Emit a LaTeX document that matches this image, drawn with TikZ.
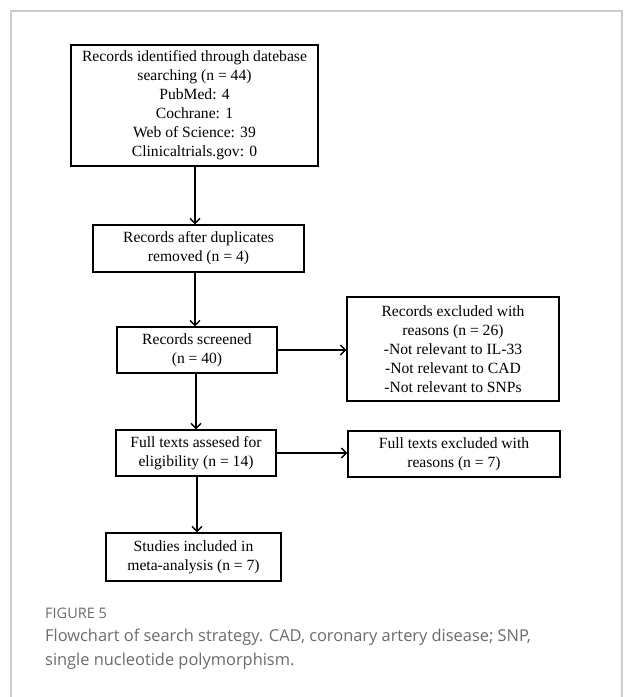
\documentclass[tikz,border=0pt]{standalone}
\usepackage{fontspec}
\setmainfont{Liberation Serif}
\newfontfamily\capfont{Open Sans}
\usetikzlibrary{arrows.meta}
\definecolor{framegray}{HTML}{CCCCCC}
\definecolor{capgray}{HTML}{6B6B6B}
\begin{document}
\begin{tikzpicture}[x=1pt,y=-1pt,
  box/.style={draw=black, line width=1.4pt, inner sep=0pt, align=center,
    font=\fontsize{15.6}{19}\selectfont},
  flow/.style={line width=1.4pt, -{Straight Barb[length=5pt,width=10pt,line width=1.4pt]}}]
\useasboundingbox (0,0) rectangle (625,697);
\draw[framegray, line width=1.5pt] (11,700) -- (11,11) -- (622,11) -- (622,700);

\node[box, minimum width=247pt, minimum height=121pt] (b1) at (194.5,105.5)
  {Records identified through datebase\\searching (n = 44)\\PubMed: 4\\Cochrane: 1\\Web of Science: 39\\Clinicaltrials.gov: 0};
\node[box, minimum width=211pt, minimum height=47pt] (b2) at (198.5,248.5)
  {Records after duplicates\\removed (n = 4)};
\node[box, minimum width=160pt, minimum height=46pt] (b3) at (197,350)
  {Records screened\\(n = 40)};
\node[box, minimum width=212pt, minimum height=104pt] (r1) at (453,349)
  {Records excluded with\\reasons (n = 26)\\-Not relevant to IL-33\\-Not relevant to CAD\\-Not relevant to SNPs};
\node[box, minimum width=160pt, minimum height=46pt] (b4) at (196,453)
  {Full texts assesed for\\eligibility (n = 14)};
\node[box, minimum width=212pt, minimum height=46pt] (r2) at (454,454)
  {Full texts excluded with\\reasons (n = 7)};
\node[box, minimum width=175pt, minimum height=48pt] (b5) at (193.5,557)
  {Studies included in\\meta-analysis (n = 7)};

\draw[flow] (b1.south -| 195,0) -- (b2.north -| 195,0);
\draw[flow] (b2.south -| 195,0) -- (b3.north -| 195,0);
\draw[flow] (b3.south -| 196,0) -- (b4.north -| 196,0);
\draw[flow] (b4.south -| 197,0) -- (b5.north -| 197,0);
\draw[flow] (b3.east) -- (b3.east -| r1.west);
\draw[flow] (b4.east) -- (b4.east -| r2.west);

\node[anchor=base west, inner sep=0pt, text=capgray, font=\capfont\fontsize{14.5}{16}\selectfont] (fig) at (45,618) {FIGURE 5};
\node[anchor=north west, inner sep=0pt, text=capgray, align=left,
  font=\capfont\fontsize{16.4}{24}\selectfont] (cap) at (45,629)
  {Flowchart of search strategy. CAD, coronary artery disease; SNP,\\single nucleotide polymorphism.};
\end{tikzpicture}
\end{document}
